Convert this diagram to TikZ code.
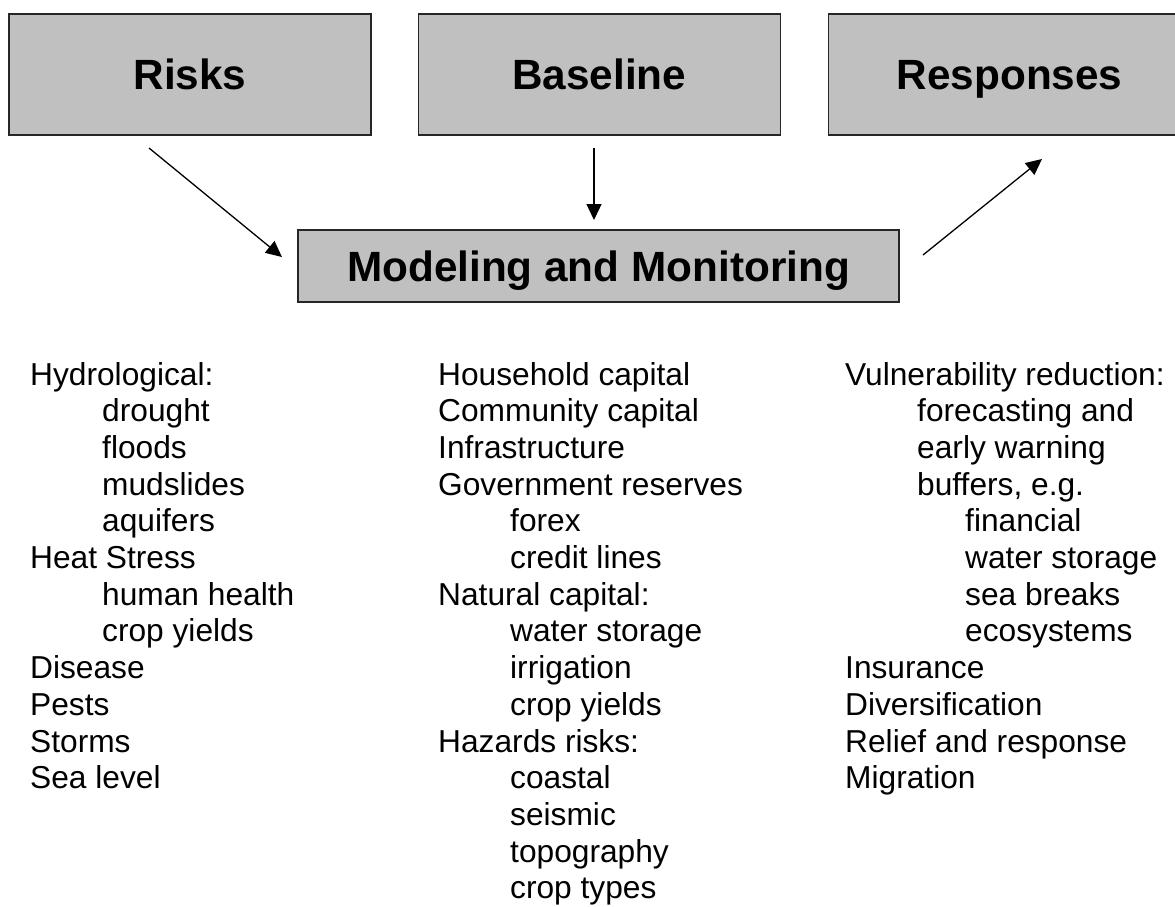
\documentclass[tikz,border=0pt]{standalone}
\usepackage{fontspec}
\setmainfont{Liberation Sans}
\usetikzlibrary{arrows.meta, positioning}
\definecolor{boxgray}{HTML}{C0C0C0}
\tikzset{
    block_gray/.style={rectangle, draw=black!85, line width=1.3pt, fill=boxgray, font=\fontsize{42.3}{50}\selectfont\bfseries, text height=30.3pt, text depth=0pt, inner sep=0pt},
    item/.style={anchor=base west, inner sep=0pt, font=\fontsize{31.7}{36.7}\selectfont},
    arrow/.style={-{Triangle[length=16pt, width=15pt]}, line width=1.3pt}
}

\begin{document}
\begin{tikzpicture}[x=1pt, y=-1pt]
    \useasboundingbox (0,0) rectangle (1175,906);
    \clip (0,0) rectangle (1175,906);

    % Top row
    \node (risks) [block_gray, minimum width=362pt, minimum height=121pt] at (190,74.5) {Risks};
    \node (baseline) [block_gray, minimum width=362pt, minimum height=121pt, right=46pt of risks] {Baseline};
    \node (responses) [block_gray, minimum width=362pt, minimum height=121pt, right=47pt of baseline] {Responses};

    % Middle box
    \node (modeling) [block_gray, minimum width=601pt, minimum height=72pt] at (598.5,266) {Modeling and Monitoring};

    % Arrow ends
    \coordinate (risk_out) at (149,148);
    \coordinate (risk_in) at (282,257);
    \coordinate (base_out) at (594,148);
    \coordinate (base_in) at (594,220);
    \coordinate (model_out) at (923,255);
    \coordinate (resp_in) at (1042,159);
    \draw [arrow] (risk_out) -- (risk_in);
    \draw [arrow] (base_out) -- (base_in);
    \draw [arrow] (model_out) -- (resp_in);

    % Risks list
    \foreach \dx/\txt [count=\i from 0] in {0/Hydrological:, 72/drought, 72/floods, 72/mudslides, 72/aquifers, 0/Heat Stress, 72/human health, 72/crop yields, 0/Disease, 0/Pests, 0/Storms, 0/Sea level}
        \node (riskitem\i) [item] at (30+\dx, 385+36.7*\i) {\txt};

    % Baseline list
    \foreach \dx/\txt [count=\i from 0] in {0/Household capital, 0/Community capital, 0/Infrastructure, 0/Government reserves, 72/forex, 72/credit lines, 0/Natural capital:, 72/water storage, 72/irrigation, 72/crop yields, 0/Hazards risks:, 72/coastal, 72/seismic, 72/topography, 72/crop types}
        \node (baseitem\i) [item] at (438+\dx, 385+36.7*\i) {\txt};

    % Responses list
    \foreach \dx/\txt [count=\i from 0] in {0/Vulnerability reduction:, 72/forecasting and, 72/early warning, {72/buffers, e.g.}, 120/financial, 120/water storage, 120/sea breaks, 120/ecosystems, 0/Insurance, 0/Diversification, 0/Relief and response, 0/Migration}
        \node (respitem\i) [item] at (845+\dx, 385+36.7*\i) {\txt};
\end{tikzpicture}
\end{document}
